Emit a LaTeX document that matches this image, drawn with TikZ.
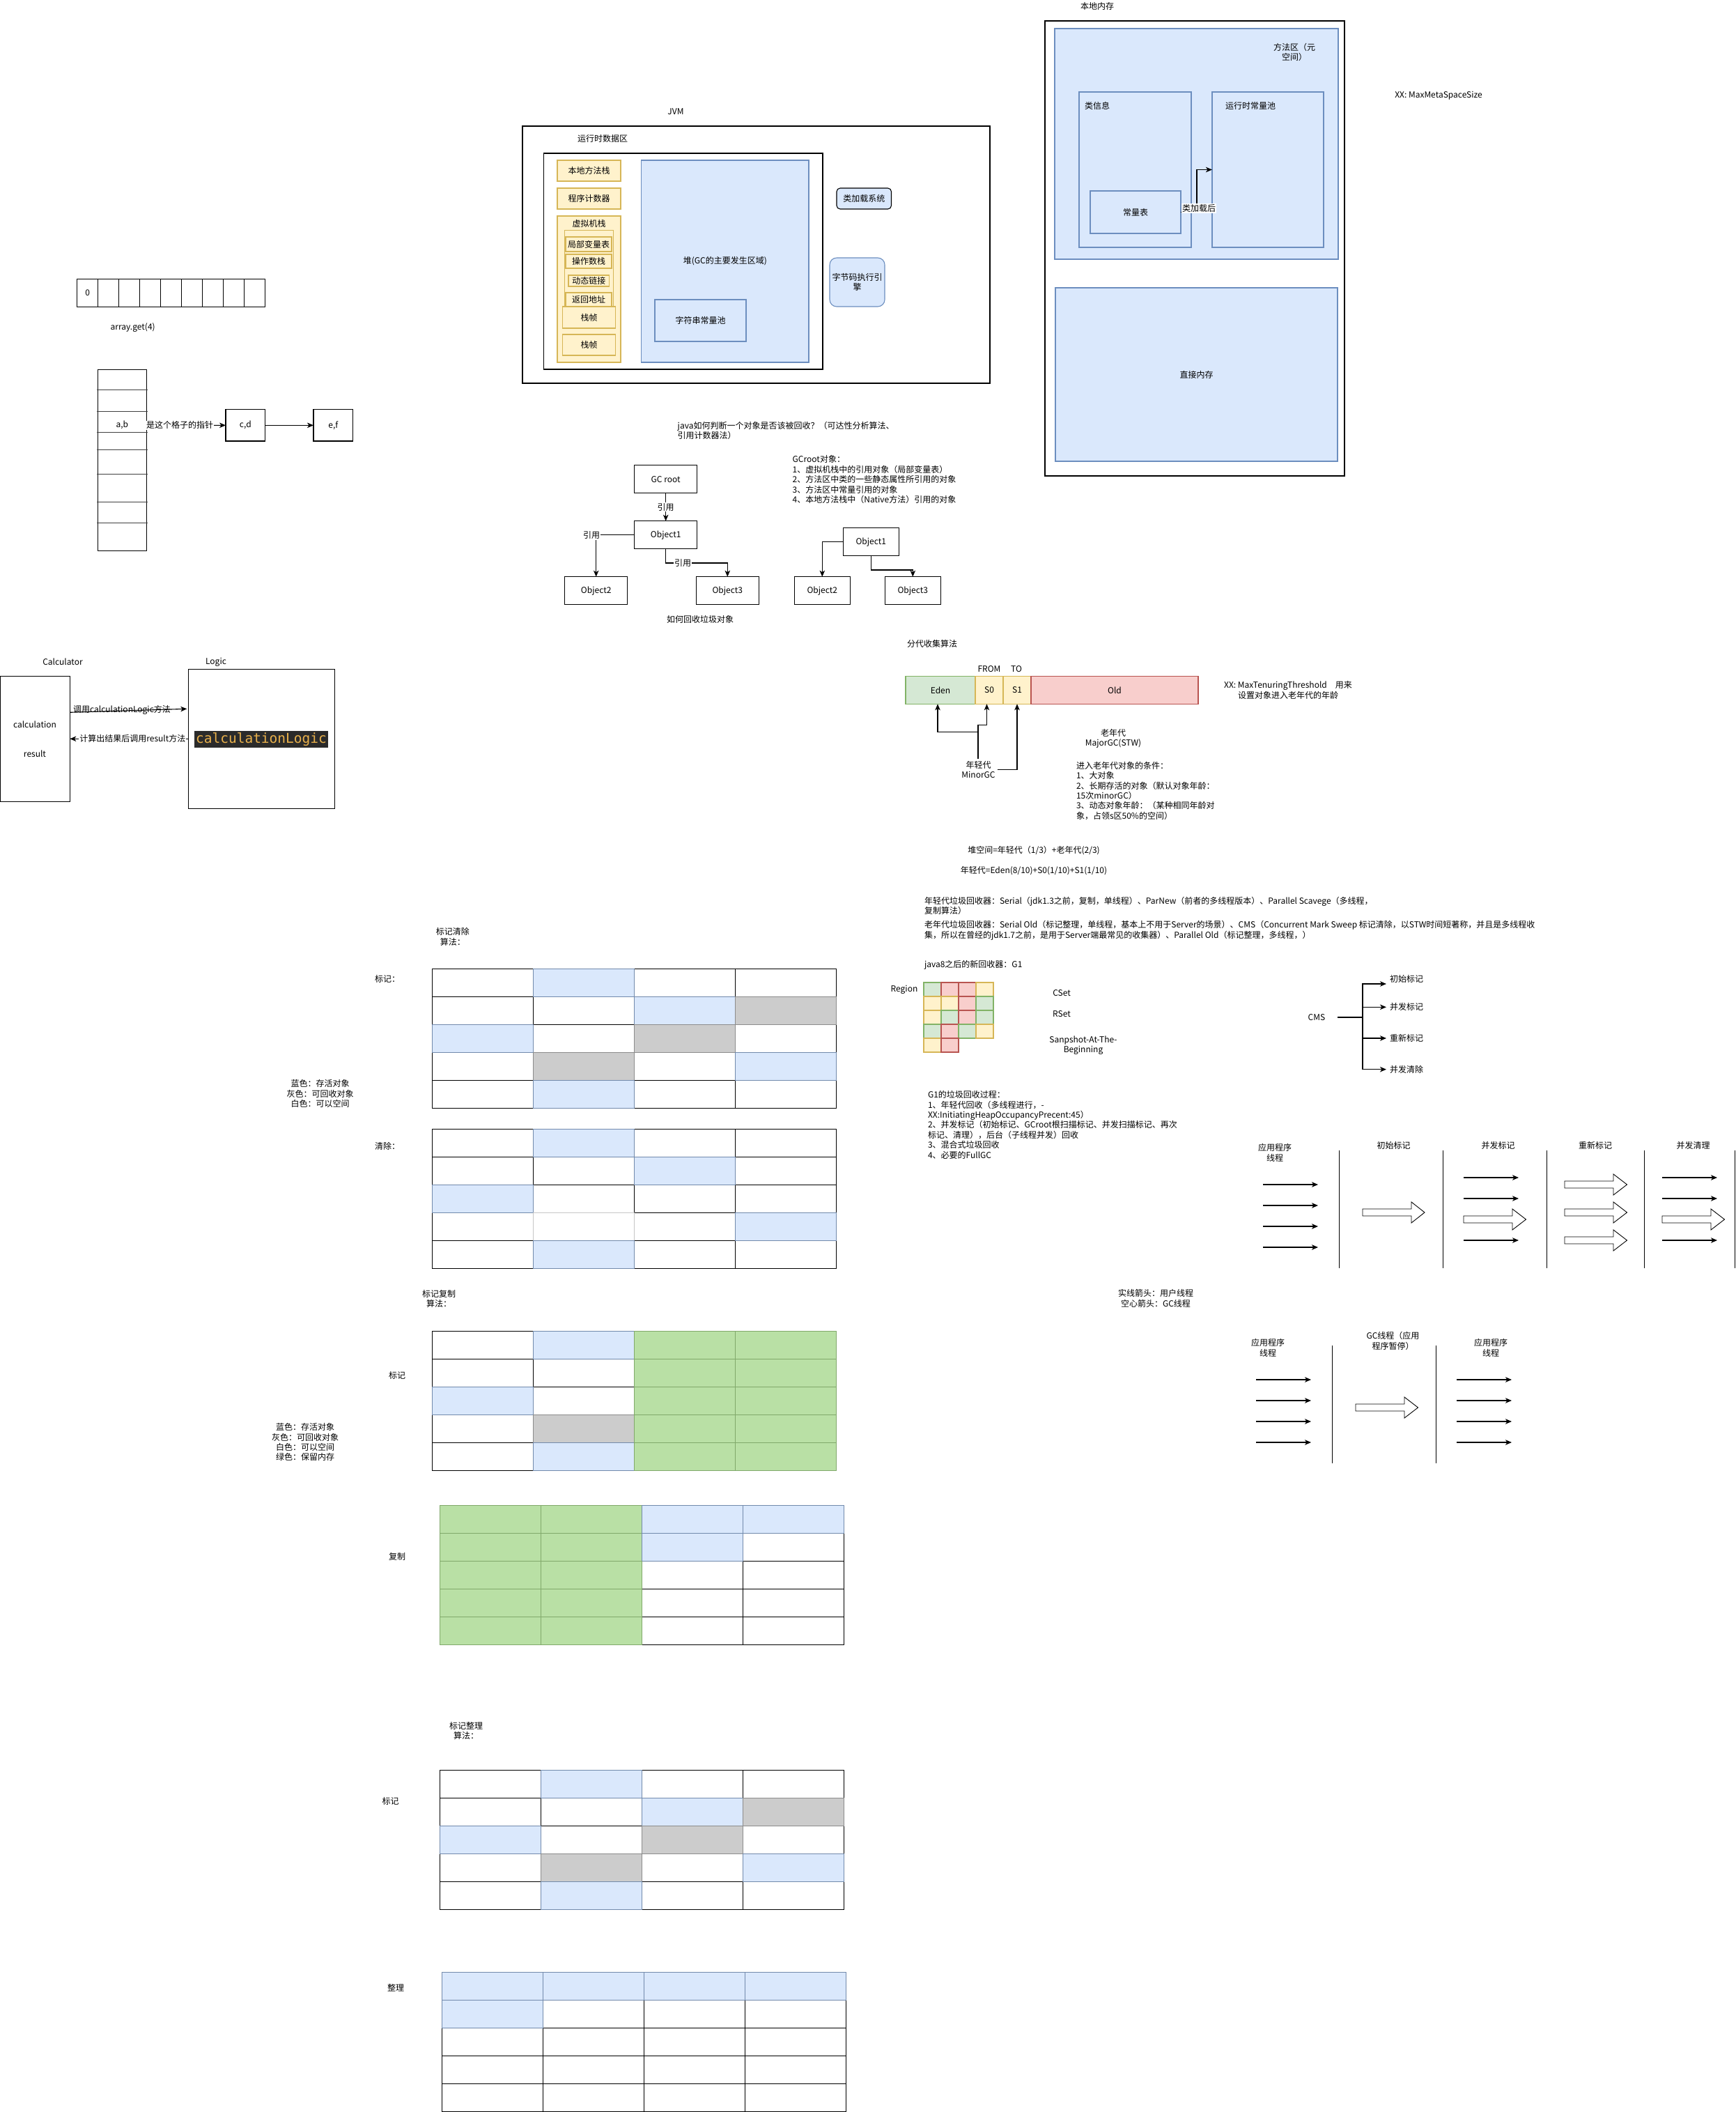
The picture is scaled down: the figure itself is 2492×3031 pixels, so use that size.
\documentclass[tikz,border=0pt]{standalone}
\usepackage{fontspec}
\setmainfont{Noto Sans CJK SC}
\newfontfamily\codefont{DejaVu Sans Mono}
\usetikzlibrary{arrows.meta}
\definecolor{bfill}{HTML}{DAE8FC}
\definecolor{bdraw}{HTML}{6C8EBF}
\definecolor{yfill}{HTML}{FFF2CC}
\definecolor{ydraw}{HTML}{D6B656}
\definecolor{gfill}{HTML}{D5E8D4}
\definecolor{gdraw}{HTML}{82B366}
\definecolor{rfill}{HTML}{F8CECC}
\definecolor{rdraw}{HTML}{B85450}
\definecolor{grfill}{HTML}{B9E0A5}
\definecolor{gyfill}{HTML}{CCCCCC}
\definecolor{gydraw}{HTML}{8C8C8C}
\definecolor{codebg}{HTML}{2B2B2B}
\definecolor{codefg}{HTML}{E8B04B}
\tikzset{
  wbox/.style={draw=black,fill=white,align=center},
  obox/.style={draw=black,align=center},
  ybox/.style={draw=ydraw,fill=yfill,align=center},
  bbox/.style={draw=bdraw,fill=bfill,align=center},
  lbl/.style={fill=white,inner sep=1pt},
  arr/.style={-{Stealth[length=9pt,width=7.5pt,inset=2.5pt]}},
  ctxt/.style={align=center},
  ltxt/.style={align=left,anchor=west},
  paW/.style={draw=black,fill=white}, paB/.style={}, paY/.style={}, paG/.style={}, paL/.style={}, paE/.style={}, paR/.style={}, paS/.style={},
  pbW/.style={}, pbB/.style={draw=bdraw!70!gray,fill=bfill}, pbY/.style={draw=gydraw,fill=gyfill},
  pbG/.style={draw=gdraw!80!gray,fill=grfill}, pbL/.style={draw=gray!45},
  pbE/.style={draw=gdraw,fill=gfill}, pbR/.style={draw=rdraw,fill=rfill}, pbS/.style={draw=ydraw,fill=yfill},
}
\newcommand\bx[7]{\node[#1,minimum width={(#4)-(#2)},minimum height={(#5)-(#3)}] (#6) at ({((#2)+(#4))/2},{((#3)+(#5))/2}) {#7};}
\newcommand\cellgrid[5]{%
  \foreach \rw [count=\ri from 0] in {#5} {\foreach \cc [count=\ci from 0] in \rw {\path[pa\cc] ({#1+\ci*#3},{#2+\ri*#4}) rectangle ++(#3,#4);}}%
  \foreach \rw [count=\ri from 0] in {#5} {\foreach \cc [count=\ci from 0] in \rw {\path[pb\cc] ({#1+\ci*#3},{#2+\ri*#4}) rectangle ++(#3,#4);}}%
}
\newcommand\blockarr[4]{\draw[fill=white,line width=0.9pt] (#1,{#4-5}) -- (#2,{#4-5}) -- (#2,{#4-15}) -- (#3,#4) -- (#2,{#4+15}) -- (#2,{#4+5}) -- (#1,{#4+5}) -- cycle;}
\begin{document}
\begin{tikzpicture}[x=1pt,y=-1pt,line width=1.1pt,
  every node/.style={font=\fontsize{12}{14.4}\selectfont,inner sep=0pt,outer sep=0pt}]
\fill[white] (0,0) rectangle (2492,3031);
\useasboundingbox (0,0) rectangle (2492,3031);

% ---------- array ----------
\foreach \i in {0,...,8} {\draw ({110.7+30*\i},400.3) rectangle ++(30,40);}
\node (a0) at (125.7,420.3) {0};
\node (aget) at (190.7,470.3) {array.get(4)};
\draw (140.3,530.3) rectangle (210.3,790.3);
\foreach \yy in {559.7,590.3,620.3,645.3,680.3,720.3,750.3} {\draw[black!75] (139,\yy) -- (212,\yy);}
\node[minimum width=70] (ab) at (175.3,610) {a,b};
\bx{wbox}{324}{587.7}{380.7}{633}{cd}{c,d}
\bx{wbox}{450}{587.7}{506.7}{633}{ef}{e,f}
\draw[arr] (ab.east) -- (cd.west) node[lbl,pos=0.42] (ptr) {是这个格子的指针};
\draw[arr] (cd.east) -- (ef.west);

% ---------- JVM ----------
\node (jvmt) at (970,160) {JVM};
\bx{obox}{750}{181}{1421}{550}{jvm}{}
\node (rtdat) at (865,199) {运行时数据区};
\bx{obox}{780.7}{220}{1181}{530}{rtda}{}
\bx{ybox}{800}{230}{891}{260}{nms}{本地方法栈}
\bx{ybox}{800}{270}{891}{300}{pc}{程序计数器}
\bx{ybox}{800}{310}{891}{520}{vms}{}
\node (vmst) at (845.5,320.5) {虚拟机栈};
\bx{ybox}{810.6}{330.7}{880.8}{440}{frm}{}
\bx{ybox}{812}{340}{878}{361}{lvt}{局部变量表}
\bx{ybox}{812}{365}{878}{385}{ops}{操作数栈}
\bx{ybox}{816}{395}{874.5}{411}{dyn}{动态链接}
\bx{ybox}{812}{420}{878}{440}{ret}{返回地址}
\bx{ybox}{807.5}{440}{883.5}{471}{sf1}{栈帧}
\bx{ybox}{807.5}{480}{883.5}{510}{sf2}{栈帧}
\bx{bbox}{920.6}{230}{1161}{520}{heap}{堆(GC的主要发生区域)}
\bx{bbox}{940}{430}{1071}{490}{spool}{字符串常量池}
\bx{bbox,draw=black,rounded corners=5pt}{1201}{270}{1279.5}{300}{cls}{类加载系统}
\bx{bbox,rounded corners=10pt}{1191}{370}{1270}{440}{exe}{字节码执行引\\擎}

% ---------- native memory ----------
\node (nmt) at (1575,9) {本地内存};
\bx{obox}{1500}{30}{1930}{683}{nm}{}
\bx{bbox}{1514}{41}{1921}{372}{meta}{}
\node[ctxt] (metat) at (1858,75) {方法区（元\\空间）};
\bx{bbox}{1549}{132}{1710}{355}{cinfo}{}
\node[ltxt] (cinfot) at (1557,152) {类信息};
\bx{bbox}{1565}{274}{1695}{335}{clt}{常量表}
\bx{bbox}{1740}{132}{1900}{355}{rcp}{}
\node[ltxt] (rcpt) at (1759,152) {运行时常量池};
\draw[arr] (clt.east) -- ++(23,0) |- (rcp.west);
\node[lbl] (loadl) at (1721,299) {类加载后};
\bx{bbox}{1515}{413}{1920}{662}{direct}{直接内存}
\node (mmss) at (2065,137) {XX: MaxMetaSpaceSize};

% ---------- GC roots ----------
\node[ltxt] (q1) at (972.7,617.8) {java如何判断一个对象是否该被回收？（可达性分析算法、\\引用计数器法）};
\bx{wbox}{910.7}{667.7}{1000.7}{707.7}{gcroot}{GC root}
\bx{wbox}{910.7}{747.7}{1000.7}{787.7}{obja}{Object1}
\bx{wbox}{810.7}{827.7}{900.7}{867.7}{objb}{Object2}
\bx{wbox}{999.3}{827.7}{1089.3}{867.7}{objc}{Object3}
\draw[arr] (gcroot) -- (obja) node[lbl,midway] (r1) {引用};
\draw[arr] (obja.west) -| (objb.north);
\node[lbl] (r2) at (849,768) {引用};
\draw[arr] (obja.south) -- ++(0,20.3) -| (objc.north);
\node[lbl] (r3) at (980,808) {引用};
\node (howt) at (1005,889) {如何回收垃圾对象};
\node[ltxt] (gcrt) at (1137.7,688.2) {GCroot对象：\\1、虚拟机栈中的引用对象（局部变量表）\\2、方法区中类的一些静态属性所引用的对象\\3、方法区中常量引用的对象\\4、本地方法栈中（Native方法）引用的对象};
\bx{wbox}{1210.3}{757.7}{1290.3}{797.7}{objd}{Object1}
\bx{wbox}{1140.3}{827.7}{1220.3}{867.7}{obje}{Object2}
\bx{wbox}{1270.3}{827.7}{1350.3}{867.7}{objf}{Object3}
\draw[arr] (objd.west) -| (obje.north);
\draw[arr] (objd.south) -- ++(0,20.3) -| (objf.north);

% ---------- Calculator / Logic ----------
\node (calct) at (90,950) {Calculator};
\bx{wbox}{0.7}{970.3}{100.3}{1150.3}{calc}{}
\node (calc1) at (50,1039.3) {calculation};
\node (calc2) at (50,1082) {result};
\node (logict) at (310,950) {Logic};
\bx{wbox}{270.3}{960.3}{480.3}{1160.3}{logic}{}
\node[fill=codebg,text=codefg,minimum width=192,minimum height=23.7,font=\codefont\fontsize{19.5}{20}\selectfont] (code) at (375,1061) {calculationLogic};
\draw[arr] ([yshift=38pt]calc.east) -- ([yshift=43pt,xshift=-2pt]logic.west);
\node (call1) at (175,1019.3) {调用calculationLogic方法};
\draw[arr] (logic.west) -- (calc.east) node[lbl,pos=0.47] (call2) {计算出结果后调用result方法};

% ---------- generations ----------
\node (gent) at (1338,924) {分代收集算法};
\node (fromt) at (1420,960) {FROM};
\node (tot) at (1459,960) {TO};
\bx{draw=gdraw,fill=gfill}{1300}{970.3}{1400}{1010.3}{eden}{Eden}
\bx{ybox}{1400}{970.3}{1440}{1010.3}{szero}{S0}
\bx{ybox}{1440}{970.3}{1480}{1010.3}{sone}{S1}
\bx{draw=rdraw,fill=rfill}{1480}{970.3}{1720}{1010.3}{old}{Old}
\node[ctxt] (yg) at (1404.5,1104.5) {年轻代\\MinorGC};
\coordinate (ygtop) at (1404,1089);
\draw[arr] (ygtop) -- (1404,1050.3) -| ([xshift=-4pt]eden.south);
\draw[arr] (ygtop) -- (1404,1040.3) -| ([xshift=-3.5pt]szero.south);
\draw[arr] ([xshift=3pt]yg.east) -| (sone.south);
\node[ctxt] (ogt) at (1598,1060) {老年代\\MajorGC(STW)};
\node[ltxt] (cond) at (1545,1134.9) {进入老年代对象的条件：\\1、大对象\\2、长期存活的对象（默认对象年龄：\\15次minorGC）\\3、动态对象年龄：（某种相同年龄对\\象，占领s区50\%的空间）};
\node[ctxt] (mtt) at (1849,990.5) {XX: MaxTenuringThreshold\quad 用来\\设置对象进入老年代的年龄};
\node (heapeq) at (1484,1221) {堆空间=年轻代（1/3）+老年代(2/3)};
\node (ygeq) at (1484,1250) {年轻代=Eden(8/10)+S0(1/10)+S1(1/10)};
\node[ltxt] (ygc) at (1327,1300) {年轻代垃圾回收器：Serial（jdk1.3之前，复制，单线程）、ParNew（前者的多线程版本）、Parallel Scavege（多线程，\\复制算法）};
\node[ltxt] (ogc) at (1327,1335.2) {老年代垃圾回收器：Serial Old（标记整理，单线程，基本上不用于Server的场景）、CMS（Concurrent Mark Sweep 标记清除，以STW时间短著称，并且是多线程收\\集，所以在曾经的jdk1.7之前，是用于Server端最常见的收集器）、Parallel Old（标记整理，多线程，）};
\node[ltxt] (g1t) at (1327,1385) {java8之后的新回收器：G1};

% ---------- G1 ----------
\cellgrid{1326}{1410}{25}{20}{{E,R,R,S},{S,S,R,E},{S,E,R,E},{E,R,E,S},{S,R}}
\node (regt) at (1298,1420) {Region};
\node (cset) at (1524,1425) {CSet};
\node (rset) at (1524,1455) {RSet};
\node[ctxt] (satb) at (1555,1500.5) {Sanpshot-At-The-\\Beginning};
\node[ltxt] (g1p) at (1332,1614.3) {G1的垃圾回收过程：\\1、年轻代回收（多线程进行，-\\XX:InitiatingHeapOccupancyPrecent:45）\\2、并发标记（初始标记、GCroot根扫描标记、并发扫描标记、再次\\标记、清理），后台（子线程并发）回收\\3、混合式垃圾回收\\4、必要的FullGC};

% ---------- CMS ----------
\node[minimum width=60] (cms) at (1890,1460) {CMS};
\node[anchor=west] (cmsa) at (1995,1405) {初始标记};
\node[anchor=west] (cmsb) at (1995,1445.3) {并发标记};
\node[anchor=west] (cmsc) at (1995,1490) {重新标记};
\node[anchor=west] (cmsd) at (1995,1534.7) {并发清除};
\draw (cms.east) -- (1956,1460);
\draw[arr,shorten >=5pt] (1956,1460) |- ([yshift=-7pt]cmsa.west);
\draw[arr,shorten >=5pt] (1956,1460) |- (cmsb.west);
\draw[arr,shorten >=5pt] (1956,1460) |- (cmsc.west);
\draw[arr,shorten >=5pt] (1956,1460) |- (cmsd.west);

% ---------- thread diagram (CMS) ----------
\node[ctxt] (app1) at (1830,1654.5) {应用程序\\线程};
\node (h1) at (2000.5,1644) {初始标记};
\node (h2) at (2150.5,1644) {并发标记};
\node (h3) at (2290,1644) {重新标记};
\node (h4) at (2430.5,1644) {并发清理};
\foreach \xx in {1922,2071,2220,2360,2490} {\draw[line width=0.9pt] (\xx,1651) -- (\xx,1820);}
\foreach \yy in {1700,1730,1760,1790} {\draw[arr] (1813,\yy) -- (1892,\yy);}
\blockarr{1956}{2026}{2045}{1740}
\foreach \yy in {1690,1720,1780} {\draw[arr] (2101,\yy) -- (2180,\yy);}
\blockarr{2101}{2171}{2190.5}{1750}
\blockarr{2246}{2316}{2335.5}{1700}
\blockarr{2246}{2316}{2335.5}{1740}
\blockarr{2246}{2316}{2335.5}{1780}
\foreach \yy in {1690,1720,1780} {\draw[arr] (2386,\yy) -- (2465,\yy);}
\blockarr{2386}{2456}{2475.5}{1750}
\node[ctxt] (legendar) at (1659,1863.5) {实线箭头：用户线程\\空心箭头：GC线程};

% ---------- thread diagram (STW) ----------
\node[ctxt] (app2) at (1820,1934.5) {应用程序\\线程};
\node[ctxt] (gcth) at (1999.5,1924.5) {GC线程（应用\\程序暂停）};
\node[ctxt] (app3) at (2140,1934.5) {应用程序\\线程};
\foreach \xx in {1912,2061} {\draw[line width=0.9pt] (\xx,1931) -- (\xx,2100);}
\foreach \yy in {1980,2010,2040,2070} {\draw[arr] (1803,\yy) -- (1882,\yy); \draw[arr] (2091,\yy) -- (2170,\yy);}
\blockarr{1946}{2016}{2035.5}{2020}

% ---------- mark sweep ----------
\begin{scope}[line width=0.9pt]
\node[ctxt] (mst) at (649.8,1344.5) {标记清除\\算法：};
\node (msm) at (556,1405) {标记：};
\cellgrid{620}{1390}{145}{40}{{W,B,W,W},{W,W,B,Y},{B,W,Y,W},{W,Y,W,B},{W,B,W,W}}
\node[ctxt] (leg1) at (459.5,1569.8) {蓝色：存活对象\\灰色：可回收对象\\白色：可以空间};
\node (msc) at (556,1645) {清除：};
\cellgrid{620}{1620}{145}{40}{{W,B,W,W},{W,W,B,W},{B,W,W,W},{W,L,W,B},{W,B,W,W}}

% ---------- mark copy ----------
\node[ctxt] (mct) at (630,1864) {标记复制\\算法：};
\node (mcm) at (570,1974) {标记};
\cellgrid{620}{1910}{145}{40}{{W,B,G,G},{W,W,G,G},{B,W,G,G},{W,Y,G,G},{W,B,G,G}}
\node[ctxt] (leg2) at (438,2069.6) {蓝色：存活对象\\灰色：可回收对象\\白色：可以空间\\绿色：保留内存};
\node (mcc) at (570,2234) {复制};
\cellgrid{631}{2160}{145}{40}{{G,G,B,B},{G,G,B,W},{G,G,W,W},{G,G,W,W},{G,G,W,W}}

% ---------- mark compact ----------
\node[ctxt] (mzt) at (669,2484) {标记整理\\算法：};
\node (mzm) at (560.6,2585) {标记};
\cellgrid{631}{2540}{145}{40}{{W,B,W,W},{W,W,B,Y},{B,W,Y,W},{W,Y,W,B},{W,B,W,W}}
\node (mzc) at (568,2853) {整理};
\cellgrid{634}{2830}{145}{40}{{B,B,B,B},{B,W,W,W},{W,W,W,W},{W,W,W,W},{W,W,W,W}}
\end{scope}
\end{tikzpicture}
\end{document}
